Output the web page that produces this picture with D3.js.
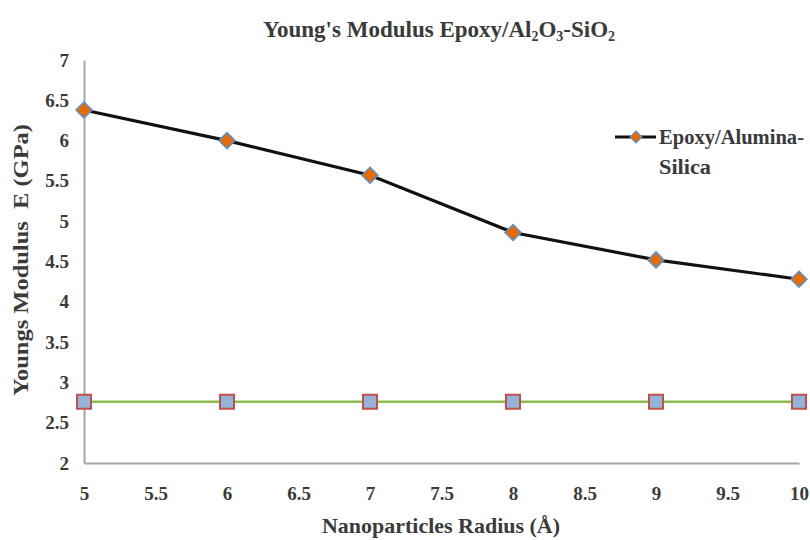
<!DOCTYPE html>
<html><head><meta charset="utf-8">
<script src="https://cdn.jsdelivr.net/npm/d3@7"></script>
<style>body{margin:0;background:#fff}svg{display:block}text{font-family:"Liberation Serif","DejaVu Serif",serif;font-weight:bold;fill:#3a3a3a}</style>
</head><body><svg id="c" width="810" height="540"></svg>
<script>
const radius = [5, 6, 7, 8, 9, 10];
const epoxyAluminaSilica = [6.38, 6.0, 5.57, 4.86, 4.52, 4.28];
const pureEpoxy = [2.76, 2.76, 2.76, 2.76, 2.76, 2.76];
const xTicks = [5, 5.5, 6, 6.5, 7, 7.5, 8, 8.5, 9, 9.5, 10];
const yTicks = [2, 2.5, 3, 3.5, 4, 4.5, 5, 5.5, 6, 6.5, 7];
const legendLabel = ["Epoxy/Alumina-", "Silica"];

const FONT = '"Liberation Serif","DejaVu Serif",serif';
const svg = d3.select("#c");
const x = d3.scaleLinear().domain([5, 10]).range([84, 799]);
const y = d3.scaleLinear().domain([2, 7]).range([463, 60]);

// axes
const xAxis = svg.append("g").attr("transform", `translate(0,${y(2)})`)
  .call(d3.axisBottom(x).tickValues(xTicks).tickSize(0).tickPadding(24).tickFormat(d3.format("")));
xAxis.attr("font-family", FONT).attr("font-size", 19).attr("font-weight", "bold");
xAxis.select(".domain").attr("stroke", "#a6a6a6").attr("stroke-width", 2);
xAxis.selectAll("text").attr("fill", "#3a3a3a");

const yAxis = svg.append("g").attr("transform", `translate(${x(5)},0)`)
  .call(d3.axisLeft(y).tickValues(yTicks).tickSize(0).tickPadding(15).tickFormat(d3.format("")));
yAxis.attr("font-family", FONT).attr("font-size", 19).attr("font-weight", "bold");
yAxis.select(".domain").attr("stroke", "#a6a6a6").attr("stroke-width", 2);
yAxis.selectAll("text").attr("fill", "#3a3a3a");

// green line
const line = d3.line().x((d, i) => x(radius[i])).y(d => y(d));
svg.append("path").datum(pureEpoxy).attr("d", line)
  .attr("fill", "none").attr("stroke", "#8fbc4f").attr("stroke-width", 2.5);
svg.selectAll(".sq").data(pureEpoxy).enter().append("rect")
  .attr("x", (d, i) => x(radius[i]) - 7).attr("y", d => y(d) - 7)
  .attr("width", 14).attr("height", 14)
  .attr("fill", "#95b3d7").attr("stroke", "#c0504d").attr("stroke-width", 2);

// black line
svg.append("path").datum(epoxyAluminaSilica).attr("d", line)
  .attr("fill", "none").attr("stroke", "#111").attr("stroke-width", 3.2);
const diamond = (cx, cy, r) => `M${cx},${cy - r}L${cx + r},${cy}L${cx},${cy + r}L${cx - r},${cy}Z`;
svg.selectAll(".dm").data(epoxyAluminaSilica).enter().append("path")
  .attr("d", (d, i) => diamond(x(radius[i]), y(d), 8))
  .attr("fill", "#e36c0a").attr("stroke", "#5b8fd0").attr("stroke-width", 1.5);

// legend
svg.append("line").attr("x1", 615).attr("x2", 656).attr("y1", 137).attr("y2", 137)
  .attr("stroke", "#111").attr("stroke-width", 3.2);
svg.append("path").attr("d", diamond(636, 137, 6)).attr("fill", "#e36c0a").attr("stroke", "#5b8fd0").attr("stroke-width", 1.2);
svg.append("text").attr("x", 659).attr("y", 144).attr("font-size", 20)
  .attr("textLength", 145).attr("lengthAdjust", "spacingAndGlyphs").text(legendLabel[0]);
svg.append("text").attr("x", 659).attr("y", 174).attr("font-size", 20)
  .attr("textLength", 52).attr("lengthAdjust", "spacingAndGlyphs").text(legendLabel[1]);

// title
const t = svg.append("text").attr("x", 439).attr("y", 37).attr("text-anchor", "middle").attr("font-size", 23);
t.append("tspan").text("Young's Modulus Epoxy/Al");
t.append("tspan").attr("font-size", 14).attr("dy", 4).text("2");
t.append("tspan").attr("dy", -4).text("O");
t.append("tspan").attr("font-size", 14).attr("dy", 4).text("3");
t.append("tspan").attr("dy", -4).text("-SiO");
t.append("tspan").attr("font-size", 14).attr("dy", 4).text("2");

// axis titles
svg.append("text").attr("x", 441).attr("y", 533).attr("text-anchor", "middle").attr("font-size", 21)
  .attr("textLength", 238).attr("lengthAdjust", "spacingAndGlyphs")
  .text("Nanoparticles Radius (Å)");
svg.append("text").attr("transform", "translate(28,260) rotate(-90)").attr("text-anchor", "middle")
  .attr("font-size", 21).attr("textLength", 272).attr("lengthAdjust", "spacingAndGlyphs")
  .text("Youngs Modulus\u00a0\u00a0E (GPa)");
</script></body></html>
